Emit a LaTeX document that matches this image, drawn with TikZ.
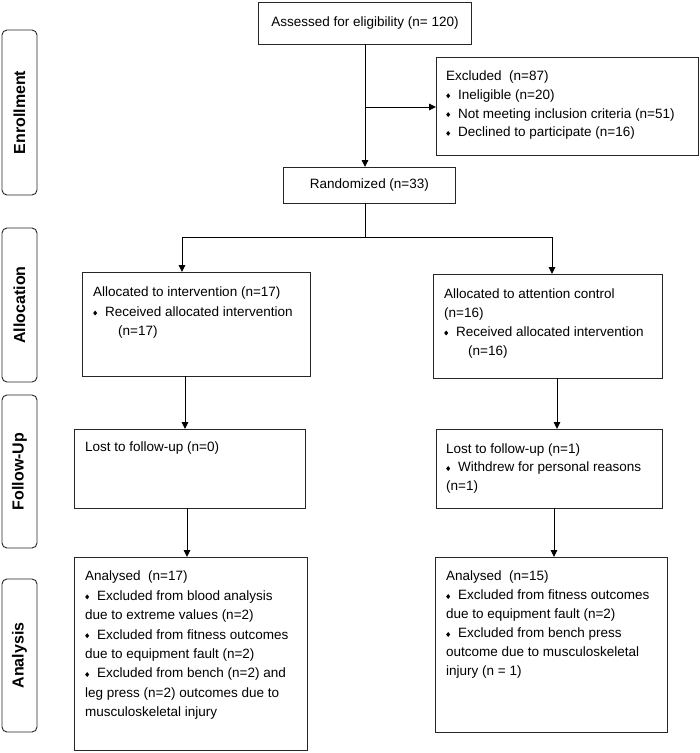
\documentclass[tikz,border=0pt]{standalone}
\usepackage{fontspec}
\setmainfont{Liberation Sans}
\usetikzlibrary{arrows.meta}
\newcommand{\dmd}{\raisebox{1pt}{\scalebox{0.8}[1]{\rotatebox{45}{\rule{3.5pt}{3.5pt}}}}\hspace{8pt}}
\begin{document}
\begin{tikzpicture}[x=1pt,y=-1pt,
  box/.style={draw=black!85, line width=0.9pt, inner sep=0pt, anchor=north west},
  txt/.style={inner sep=0pt, anchor=north west, align=left, font=\fontsize{13.5}{19}\selectfont},
  ctxt/.style={inner sep=0pt, font=\fontsize{13.5}{19}\selectfont},
  side/.style={draw=black!85, line width=0.9pt, rounded corners=5pt, rotate=90, inner sep=0pt,
    minimum height=35pt, font=\fontsize{16}{19}\selectfont\bfseries},
  arr/.style={line width=0.9pt, -{Triangle[width=6.5pt,length=7pt]}},
  ln/.style={line width=0.9pt}]
\useasboundingbox (0,0) rectangle (700,753);

% side labels
\node[side, minimum width=165pt] (senr) at (19.5,112.5) {Enrollment};
\node[side, minimum width=154pt] (salloc) at (19.5,305) {Allocation};
\node[side, minimum width=153pt] (sfol) at (19.5,471.5) {Follow-Up};
\node[side, minimum width=153pt] (sana) at (19.5,655.5) {Analysis};

% boxes
\node[box, minimum width=213pt, minimum height=42pt] (assess) at (258,2) {};
\node[ctxt] (assesst) at (assess.center) {Assessed for eligibility (n= 120)};
\node[box, minimum width=262pt, minimum height=98pt] (excl) at (436,57) {};
\node[box, minimum width=172pt, minimum height=36pt] (rand) at (283,167) {};
\node[ctxt] (randt) at (rand.center) {Randomized (n=33)};

\node[box, minimum width=228pt, minimum height=104pt] (alL) at (82,272) {};
\node[box, minimum width=229pt, minimum height=104pt] (alR) at (433,274) {};
\node[box, minimum width=231pt, minimum height=79pt] (fuL) at (74,429) {};
\node[box, minimum width=226pt, minimum height=79pt] (fuR) at (436,429) {};
\node[box, minimum width=233pt, minimum height=193pt] (anL) at (74,557) {};
\node[box, minimum width=232pt, minimum height=175pt] (anR) at (435,557) {};

% texts
\node[txt, font=\fontsize{13.5}{18.8}\selectfont] (exclt) at (446,70.5) {Excluded\ \ (n=87)\\
\dmd Ineligible (n=20)\\
\dmd Not meeting inclusion criteria (n=51)\\
\dmd Declined to participate (n=16)};
\node[txt, font=\fontsize{13.5}{19.5}\selectfont] (alLt) at (93,287) {Allocated to intervention (n=17)\\
\dmd Received allocated intervention\\
\hspace*{25pt}(n=17)};
\node[txt] (alRt) at (444,288.5) {Allocated to attention control\\
(n=16)\\
\dmd Received allocated intervention\\
\hspace*{24pt}(n=16)};
\node[txt] (fuLt) at (85,442) {Lost to follow-up (n=0)};
\node[txt, font=\fontsize{13.5}{18.5}\selectfont] (fuRt) at (446,443.5) {Lost to follow-up (n=1)\\
\dmd Withdrew for personal reasons\\
(n=1)};
\node[txt, font=\fontsize{13.5}{19.4}\selectfont] (anLt) at (85,571) {Analysed\ \ (n=17)\\
\dmd Excluded from blood analysis\\
due to extreme values (n=2)\\
\dmd Excluded from fitness outcomes\\
due to equipment fault (n=2)\\
\dmd Excluded from bench (n=2) and\\
leg press (n=2) outcomes due to\\
musculoskeletal injury};
\node[txt] (anRt) at (446,571) {Analysed\ \ (n=15)\\
\dmd Excluded from fitness outcomes\\
due to equipment fault (n=2)\\
\dmd Excluded from bench press\\
outcome due to musculoskeletal\\
injury (n = 1)};

% connectors
\coordinate (top) at (365,44);
\coordinate (j1) at (365,107);
\coordinate (rb) at (365,203);
\coordinate (sL) at (182,237);
\coordinate (sM) at (365,237);
\coordinate (sR) at (552,237);
\coordinate (cL1) at (185,376);
\coordinate (cL2) at (187,508);
\coordinate (cR1) at (557,378);
\coordinate (cR2) at (554,508);

\draw[arr] (top) -- (top |- rand.north);
\draw[arr] (j1) -- (excl.west |- j1);
\draw[ln] (rb) -- (sM);
\draw[ln] (sL) -- (sR);
\draw[arr] (sL) -- (sL |- alL.north);
\draw[arr] (sR) -- (sR |- alR.north);
\draw[arr] (cL1) -- (cL1 |- fuL.north);
\draw[arr] (cL2) -- (cL2 |- anL.north);
\draw[arr] (cR1) -- (cR1 |- fuR.north);
\draw[arr] (cR2) -- (cR2 |- anR.north);
\end{tikzpicture}
\end{document}
